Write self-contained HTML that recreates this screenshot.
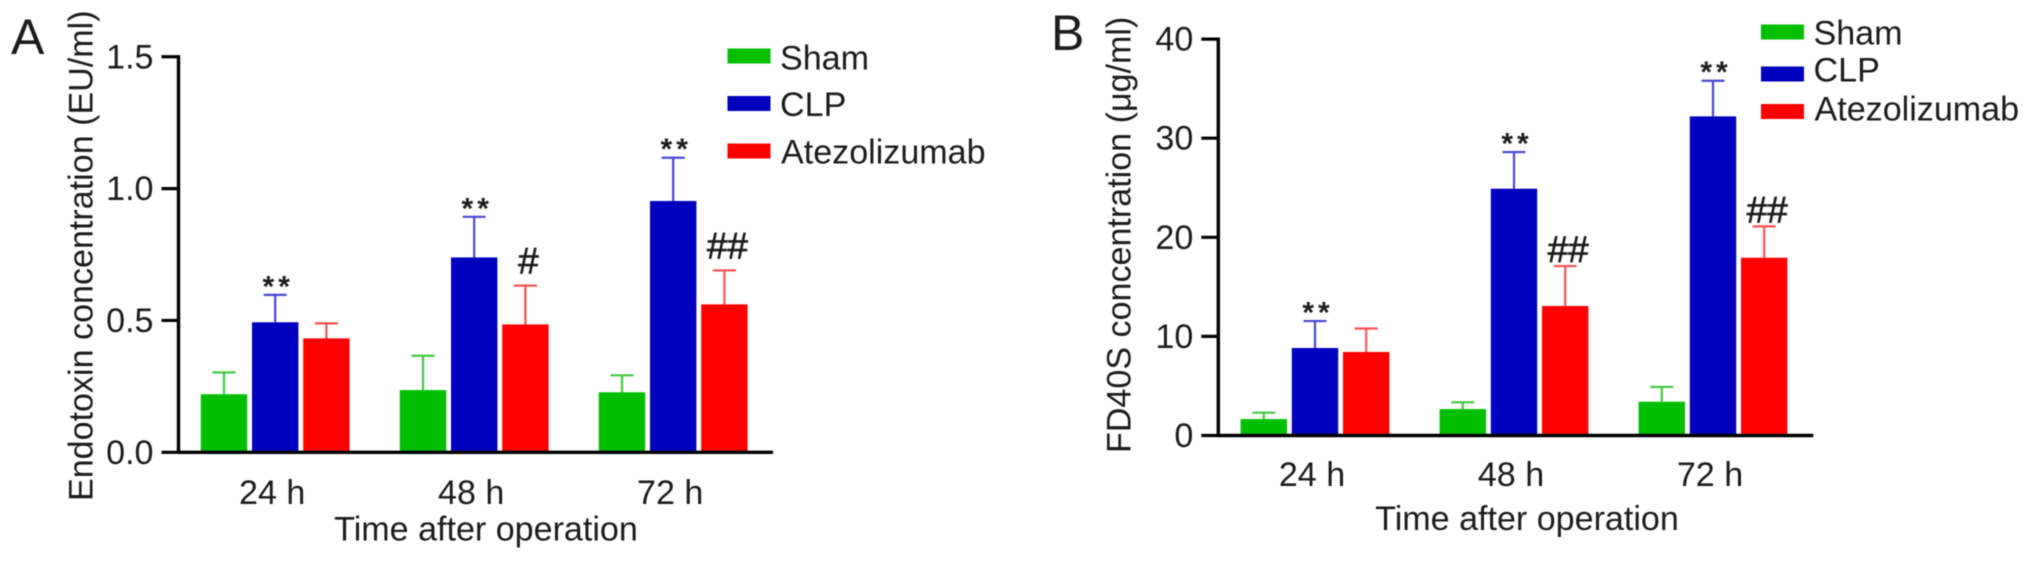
<!DOCTYPE html>
<html lang="en">
<head>
<meta charset="utf-8">
<title>Endotoxin and FD40S concentration charts</title>
<style>
  html, body { margin: 0; padding: 0; background: #fff; }
  body { width: 2031px; height: 562px; overflow: hidden; }
  svg { display: block; filter: blur(0.55px); }
  text { font-family: "Liberation Sans", "DejaVu Sans", sans-serif; fill: #1c1c1c; }
  .label { font-size: 34.1px; }
  .letter { font-size: 50px; }
  .star { font-size: 30px; font-weight: bold; letter-spacing: 4px; }
  .hash { font-size: 37px; stroke: #1c1c1c; stroke-width: 0.7px; }
</style>
</head>
<body>
<svg id="figure" xmlns="http://www.w3.org/2000/svg" width="2031" height="562" viewBox="0 0 2031 562">
  <rect x="0" y="0" width="2031" height="562" fill="#ffffff"/>

  <g id="panel-a">
    <text class="letter" x="11" y="54">A</text>
    <text class="label" transform="translate(92.5 501) rotate(-90)" x="0" y="0">Endotoxin concentration (EU/ml)</text>
    <text class="label" text-anchor="middle" x="486" y="540.5">Time after operation</text>
    <g>
      <g>
        <rect x="727.5" y="48.5" width="43" height="15" fill="#00bf00"/>
        <text class="label" x="780" y="69.3">Sham</text>
      </g>
      <g>
        <rect x="727.5" y="96" width="43" height="15" fill="#0000bf"/>
        <text class="label" x="780" y="116">CLP</text>
      </g>
      <g>
        <rect x="727.5" y="143.5" width="43" height="15" fill="#ff0000"/>
        <text class="label" x="781" y="163.3">Atezolizumab</text>
      </g>
    </g>
  </g>

  <g id="panel-b">
    <text class="letter" x="1051" y="50">B</text>
    <text class="label" transform="translate(1130.5 453) rotate(-90)" x="0" y="0">FD40S concentration (μg/ml)</text>
    <text class="label" text-anchor="middle" x="1527" y="530">Time after operation</text>
    <g>
      <g>
        <rect x="1761" y="24.5" width="43" height="15" fill="#00bf00"/>
        <text class="label" x="1813.5" y="44.3">Sham</text>
      </g>
      <g>
        <rect x="1761" y="66.5" width="43" height="15" fill="#0000bf"/>
        <text class="label" x="1813.5" y="81.7">CLP</text>
      </g>
      <g>
        <rect x="1761" y="104" width="43" height="15" fill="#ff0000"/>
        <text class="label" x="1814.5" y="120.7">Atezolizumab</text>
      </g>
    </g>
  </g>
</svg>

<script>
// Shared categories and series
const categories = ['24 h', '48 h', '72 h'];
const seriesKeys = ['sham', 'clp', 'atezolizumab'];

// Panel A: endotoxin (EU/ml)
const aTicks = [0, 0.5, 1.0, 1.5];
const aTickLabels = ['0.0', '0.5', '1.0', '1.5'];
const aSham = [0.22, 0.236, 0.2275];
const aClp = [0.493, 0.739, 0.953];
const aAtezolizumab = [0.432, 0.485, 0.561];
const aShamErrorTop = [0.303, 0.366, 0.292];
const aClpErrorTop = [0.597, 0.893, 1.117];
const aAtezolizumabErrorTop = [0.489, 0.632, 0.69];
const aClpMarks = ['**', '**', '**'];
const aAtezolizumabMarks = ['', '#', '##'];

// Panel B: FD40S (ug/ml)
const bTicks = [0, 10, 20, 30, 40];
const bTickLabels = ['0', '10', '20', '30', '40'];
const bSham = [1.66, 2.67, 3.41];
const bClp = [8.83, 24.9, 32.2];
const bAtezolizumab = [8.43, 13.07, 17.94];
const bShamErrorTop = [2.3, 3.35, 4.9];
const bClpErrorTop = [11.55, 28.6, 35.8];
const bAtezolizumabErrorTop = [10.8, 17.1, 21.1];
const bClpMarks = ['**', '**', '**'];
const bAtezolizumabMarks = ['', '##', '##'];

const NS = 'http://www.w3.org/2000/svg';
const barColors = ['#00bf00', '#0000bf', '#ff0000'];
const errorColors = ['#3fca3f', '#4747d2', '#ff5252'];

function make(parent, tag, attrs, text) {
  const el = document.createElementNS(NS, tag);
  for (const k in attrs) el.setAttribute(k, attrs[k]);
  if (text !== undefined) el.textContent = text;
  parent.appendChild(el);
  return el;
}

function drawPanel(p) {
  const root = document.getElementById(p.id);
  const bars = p.values;
  const errs = p.errorTops;

  // Error bars and bars
  bars.forEach(function (vals, s) {
    const series = make(root, 'g', {});
    
    
    vals.forEach(function (v, g) {
      const cx = p.x(g, s);
      const top = p.y(v);
      const et = p.y(errs[s][g]);
      const stem = make(series, 'line', { x1: cx, x2: cx, y1: top, y2: et, stroke: errorColors[s], 'stroke-width': 2.2 });
      
      
      const cap = make(series, 'line', { x1: cx - 11.5, x2: cx + 11.5, y1: et, y2: et, stroke: errorColors[s], 'stroke-width': 2.2 });
      
      
      const bar = make(series, 'rect', { x: cx - 23.2, y: top, width: 46.4, height: p.y(0) - top, fill: barColors[s] });
      
      
    });
  });

  // Axes
  const yAxis = make(root, 'line', { x1: p.axisX, x2: p.axisX, y1: p.y(p.ticks[p.ticks.length - 1]) - 1.6, y2: p.y(0) + 1.6, stroke: '#000', 'stroke-width': 3.4 });
  
  
  const xAxis = make(root, 'line', { x1: p.axisX, x2: p.axisEnd, y1: p.y(0), y2: p.y(0), stroke: '#000', 'stroke-width': 3.4 });
  
  

  // Y ticks
  p.ticks.forEach(function (t, i) {
    const tick = make(root, 'line', { x1: p.axisX - 17, x2: p.axisX, y1: p.y(t), y2: p.y(t), stroke: '#000', 'stroke-width': 3.2 });
    
    
    const label = make(root, 'text', { class: 'label', 'text-anchor': 'end', x: p.axisX - 25, y: p.y(t) + 11.5 }, p.tickLabels[i]);
    
    
  });

  // Category labels
  categories.forEach(function (c, g) {
    const label = make(root, 'text', { class: 'label', 'text-anchor': 'middle', x: p.x(g, 1) - 3, y: p.categoryY }, c);
    
    
  });

  // Significance marks
  p.clpMarks.forEach(function (m, g) {
    if (!m) return;
    const el = make(root, 'text', { class: 'star', 'text-anchor': 'middle', x: p.x(g, 1) + 3, y: p.y(errs[1][g]) + 1.5 }, m);
    
    
  });
  p.atezoMarks.forEach(function (m, g) {
    if (!m) return;
    const el = make(root, 'text', { class: 'hash', 'text-anchor': 'middle', x: p.x(g, 2) + 3, y: p.y(errs[2][g]) - p.hashGap }, m);
    
    
  });
}

drawPanel({
  id: 'panel-a', prefix: 'panel-a',
  values: [aSham, aClp, aAtezolizumab],
  errorTops: [aShamErrorTop, aClpErrorTop, aAtezolizumabErrorTop],
  ticks: aTicks, tickLabels: aTickLabels,
  clpMarks: aClpMarks, atezoMarks: aAtezolizumabMarks,
  x: function (g, s) { return 275.2 + 199 * g + 51.2 * (s - 1); },
  y: function (v) { return 452.3 - 263.7 * v; },
  axisX: 178.5, axisEnd: 773, categoryY: 504, hashGap: 12
});

drawPanel({
  id: 'panel-b', prefix: 'panel-b',
  values: [bSham, bClp, bAtezolizumab],
  errorTops: [bShamErrorTop, bClpErrorTop, bAtezolizumabErrorTop],
  ticks: bTicks, tickLabels: bTickLabels,
  clpMarks: bClpMarks, atezoMarks: bAtezolizumabMarks,
  x: function (g, s) { return 1315 + 199 * g + 51.2 * (s - 1); },
  y: function (v) { return 435.5 - 9.91 * v; },
  axisX: 1218.3, axisEnd: 1813.3, categoryY: 486, hashGap: 4
});
</script>
</body>
</html>
